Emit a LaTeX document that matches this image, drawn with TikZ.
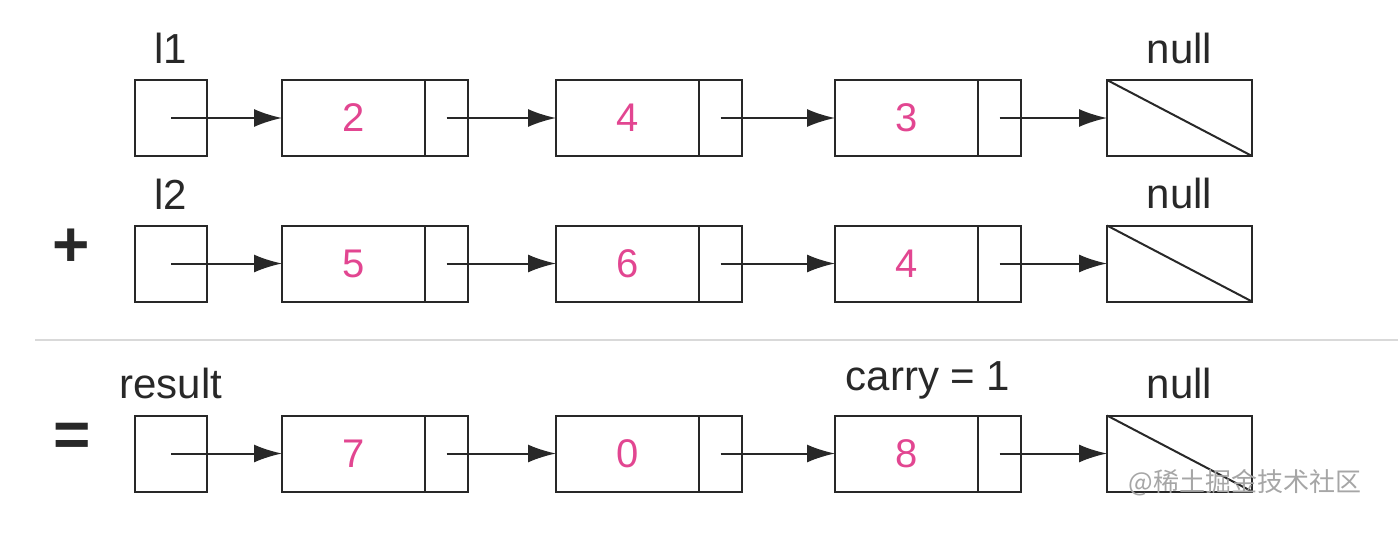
\documentclass[tikz,border=0pt]{standalone}
\usepackage{fontspec}
\setmainfont{Liberation Sans}
\newfontfamily\cjkfont{Noto Sans CJK SC}
\usetikzlibrary{positioning,arrows.meta,calc}

\definecolor{digitpink}{RGB}{226,70,145}
\definecolor{ink}{RGB}{40,40,40}

\begin{document}
\begin{tikzpicture}[x=0.5pt,y=-0.5pt,
		box/.style={draw=ink, line width=1pt, inner sep=0pt, outer sep=0pt, minimum height=38pt},
		headbox/.style={box, minimum width=36pt},
		databox/.style={box, minimum width=71.5pt, text=digitpink, font=\fontsize{20}{22}\selectfont},
		ptrbox/.style={box, minimum width=21.5pt},
		nullbox/.style={box, minimum width=72.5pt},
		lbl/.style={inner sep=1pt, text=ink, font=\fontsize{21}{24}\selectfont},
		opsign/.style={inner sep=0pt, text=ink, font=\bfseries\fontsize{32}{34}\selectfont},
		ptr/.style={draw=ink, line width=1pt, -{Latex[length=14pt,width=9pt]}}]
	\useasboundingbox (0,0) rectangle (1398,558);
	% three lists: l1, l2, result
	\foreach \r/\y/\a/\b/\c in {1/118/2/4/3, 2/263.5/5/6/4, 3/453.5/7/0/8} {
		\node[headbox] (h\r) at (171,\y) {};
		\node[databox] (d\r1) at (353.5,\y) {\a};
		\node[ptrbox, right=0pt of d\r1] (p\r1) {};
		\node[databox] (d\r2) at (627.5,\y) {\b};
		\node[ptrbox, right=0pt of d\r2] (p\r2) {};
		\node[databox] (d\r3) at (906.5,\y) {\c};
		\node[ptrbox, right=0pt of d\r3] (p\r3) {};
		\node[nullbox] (n\r) at (1179.5,\y) {};
		\draw[ink, line width=1pt] (n\r.north west) -- (n\r.south east);
		% links
		\draw[ptr] (h\r.center) -- (d\r1.west);
		\draw[ptr] (p\r1.center) -- (d\r2.west);
		\draw[ptr] (p\r2.center) -- (d\r3.west);
		\draw[ptr] (p\r3.center) -- (n\r.west);
		\node[lbl, above=7pt of n\r] (null\r) {null};
	}
	\node[lbl, above=7pt of h1] (l1) {l1};
	\node[lbl, above=7pt of h2] (l2) {l2};
	\node[lbl, above=7pt of h3] (res) {result};
	\coordinate (c3top) at ($(d33.north west)!0.5!(p33.north east)$);
	\node[lbl, above=7pt of c3top] (carry) {carry = 1};
	\node[opsign] (plus) at (71,248) {+};
	\node[opsign] (eq) at (72,440) {=};
	% separator
	\draw[gray!30, line width=1pt] (35,340) -- (1398,340);
	\node[text=gray!70, font=\cjkfont\fontsize{13}{15}\selectfont] (wm) at (1245,483) {@稀土掘金技术社区};
\end{tikzpicture}
\end{document}
